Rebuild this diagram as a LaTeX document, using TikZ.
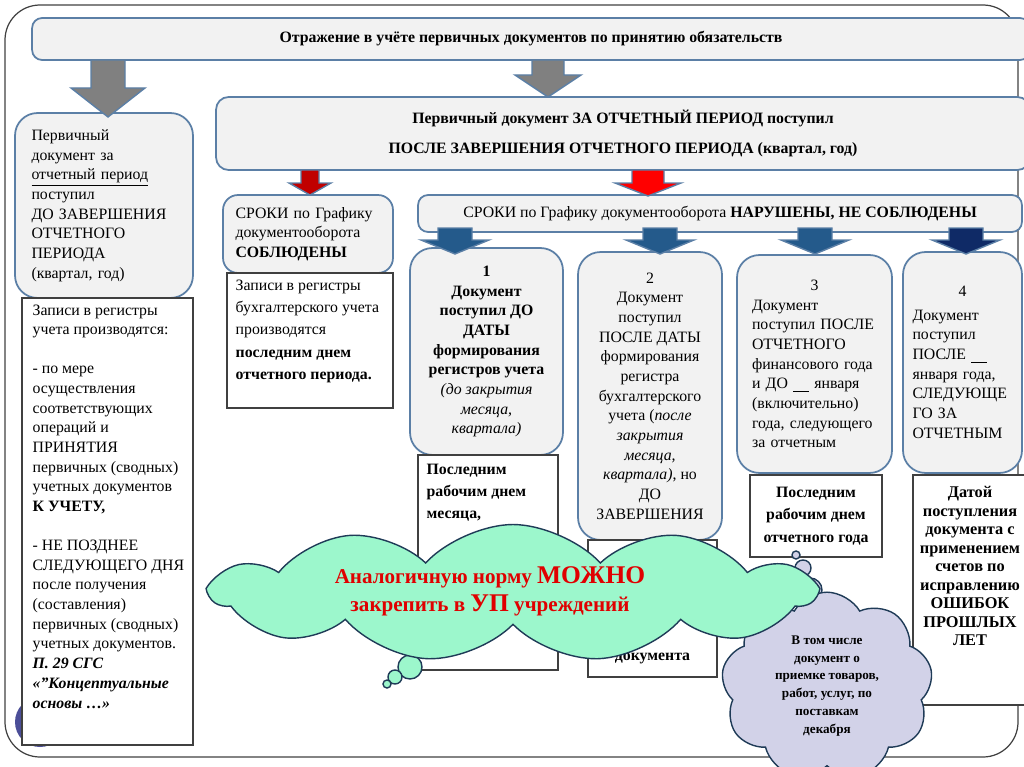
\documentclass[tikz,border=0pt]{standalone}
\usepackage{fontspec}
\setmainfont{Liberation Serif}
\usetikzlibrary{shapes,arrows,positioning}

\definecolor{boxline}{HTML}{5B7FA6}
\definecolor{boxfill}{HTML}{F2F2F2}
\definecolor{noteline}{HTML}{404040}
\definecolor{arrowgray}{HTML}{808080}
\definecolor{darkred}{HTML}{C00000}
\definecolor{steelarrow}{HTML}{245A8B}
\definecolor{navyarrow}{HTML}{0F2A66}
\definecolor{mint}{HTML}{9CF7CC}
\definecolor{lavender}{HTML}{D2D2E8}
\definecolor{cloudline}{HTML}{1F3B57}
\definecolor{alertred}{HTML}{E00000}
\definecolor{framedot}{HTML}{4B4E98}

\newcommand{\boxfont}{\fontsize{9}{11.2}\selectfont}
\newcommand{\cloudfont}{\fontsize{7.5}{10.2}\selectfont\bfseries}
% block arrow pointing down: colour, x, top, neck, tip, half shaft, half head
\newcommand{\blockdown}[7]{%
  \filldraw[draw=boxline, fill=#1, line width=0.8pt] (#2-#6,#3) -- (#2+#6,#3) -- (#2+#6,#4) -- (#2+#7,#4) -- (#2,#5) -- (#2-#7,#4) -- (#2-#6,#4) -- cycle;}

\begin{document}
\begin{tikzpicture}
				[
					x=0.02cm, y=-0.02cm,
					roundbox/.style={rectangle, rounded corners=0.45cm, draw=boxline, fill=boxfill, line width=1pt, font=\boxfont, inner sep=0pt},
					notebox/.style={rectangle, draw=noteline, fill=white, line width=0.8pt, font=\boxfont\bfseries},
					notetext/.style={inner sep=0pt, font=\boxfont, align=left},
					bubble/.style={draw=cloudline, line width=0.8pt},
				]

				\useasboundingbox (0,0) rectangle (1024,767);
				\draw[noteline, line width=0.7pt, rounded corners=0.7cm] (5,5) rectangle (1018,757);
				\fill[framedot] (40,722) circle (0.5cm);

				\node [roundbox, rounded corners=0.2cm, minimum width=19.96cm, minimum height=0.84cm, font=\boxfont\bfseries] (banner) at (531,39) {Отражение в учёте первичных документов по принятию обязательств};
				\node [roundbox, rounded corners=0.25cm, minimum width=16.28cm, minimum height=1.46cm, align=center, font=\boxfont\bfseries] (afterperiod) at (623,133.5) {Первичный документ ЗА ОТЧЕТНЫЙ ПЕРИОД поступил\\[6pt]ПОСЛЕ ЗАВЕРШЕНИЯ ОТЧЕТНОГО ПЕРИОДА (квартал, год)};
				\node [roundbox, minimum width=3.56cm, minimum height=3.7cm, text width=2.9cm, align=left] (beforeperiod) at (104,205.5) {Первичный\\документ за\\\underline{отчетный период}\\поступил\\ДО ЗАВЕРШЕНИЯ\\ОТЧЕТНОГО\\ПЕРИОДА\\(квартал, год)};
				\node [notebox, minimum width=3.42cm, minimum height=8.94cm] (beforenote) at (107.5,521.5) {};
				\node [notetext, below right=0.14cm and 0.22cm of beforenote.north west] (beforenotetext) {Записи в регистры\\учета производятся:\\[11pt]- по мере\\осуществления\\соответствующих\\операций и\\ПРИНЯТИЯ\\первичных (сводных)\\учетных документов\\\textbf{К УЧЕТУ,}\\[11pt]- НЕ ПОЗДНЕЕ\\СЛЕДУЮЩЕГО ДНЯ\\после получения\\(составления)\\первичных (сводных)\\учетных документов.\\\textbf{\textit{П. 29 СГС}}\\\textbf{\textit{«"Концептуальные}}\\\textbf{\textit{основы …»}}};

				\node [roundbox, rounded corners=0.3cm, minimum width=3.4cm, minimum height=1.56cm, text width=2.9cm, align=left] (kept) at (308,234) {СРОКИ по Графику\\документооборота\\\textbf{СОБЛЮДЕНЫ}};
				\node [notebox, minimum width=3.32cm, minimum height=2.7cm] (keptnote) at (310,340.5) {};
				\node [notetext, below right=0.14cm and 0.18cm of keptnote.north west] (keptnotetext) {Записи в регистры\\[1.5pt]бухгалтерского учета\\[1.5pt]производятся\\[1.5pt]\textbf{последним днем}\\[1.5pt]\textbf{отчетного периода.}};
				\node [roundbox, rounded corners=0.2cm, minimum width=12.08cm, minimum height=0.74cm] (broken) at (720,213.5) {СРОКИ по Графику документооборота \textbf{НАРУШЕНЫ, НЕ СОБЛЮДЕНЫ}};

				\node [roundbox, minimum width=3.06cm, minimum height=4.14cm, align=center, font=\boxfont\bfseries] (case1) at (486.5,351.5) {1\\Документ\\поступил ДО\\ДАТЫ\\формирования\\регистров учета\\\textit{\mdseries (до закрытия}\\\textit{\mdseries месяца,}\\\textit{\mdseries квартала)}};
				\node [roundbox, minimum width=2.88cm, minimum height=5.76cm, align=center] (case2) at (650,396) {2\\Документ\\поступил\\ПОСЛЕ ДАТЫ\\формирования\\регистра\\бухгалтерского\\учета (\textit{после}\\\textit{закрытия}\\\textit{месяца,}\\\textit{квартала)}, но\\ДО\\ЗАВЕРШЕНИЯ};
				\node [roundbox, minimum width=3.1cm, minimum height=4.36cm, text width=2.5cm, align=left] (case3) at (814.5,364) {\makebox[2.5cm]{3}\\Документ\\поступил ПОСЛЕ\\ОТЧЕТНОГО\\финансового года\\и ДО \underline{\hspace{1em}} января\\(включительно)\\года, следующего\\за отчетным};
				\node [roundbox, minimum width=2.38cm, minimum height=4.42cm, text width=2.0cm, align=left] (case4) at (962.5,362.5) {\makebox[2.0cm]{4}\\[2pt]Документ\\поступил\\ПОСЛЕ \underline{\hspace{1em}}\\января года,\\СЛЕДУЮЩЕ\\ГО ЗА\\ОТЧЕТНЫМ};

				\node [notebox, minimum width=2.8cm, minimum height=4.3cm] (note1) at (488,562.5) {};
				\node [notetext, font=\boxfont\bfseries, below right=0.18cm and 0.18cm of note1.north west] (note1text) {Последним\\[1.5pt]рабочим днем\\[1.5pt]месяца,};
				\node [notebox, minimum width=2.58cm, minimum height=2.74cm] (note2) at (652.5,608.5) {};
				\node [notetext, font=\boxfont\bfseries, above=0.26cm of note2.south] (note2text) {документа};
				\node [notebox, minimum width=2.64cm, minimum height=1.64cm, align=center] (note3) at (816,516) {Последним\\[1.5pt]рабочим днем\\[1.5pt]отчетного года};
				\node [notebox, minimum width=2.28cm, minimum height=4.6cm] (note4) at (970,590) {};
				\node [notetext, font=\fontsize{9.3}{10.5}\selectfont\bfseries, align=center, below=0.24cm of note4.north] (note4text) {Датой\\поступления\\документа с\\применением\\счетов по\\исправлению\\ОШИБОК\\ПРОШЛЫХ\\ЛЕТ};

				% block arrows
				\blockdown{arrowgray}{108}{60}{88}{117}{17}{37}
				\blockdown{arrowgray}{548}{60}{75}{97}{16}{33}
				\blockdown{darkred}{310}{170}{183}{195}{9}{21}
				\blockdown{red}{648}{170}{183}{196}{16}{33}
				\blockdown{steelarrow}{455}{228}{240}{254}{17}{34}
				\blockdown{steelarrow}{660}{228}{240}{254}{17}{34}
				\blockdown{steelarrow}{815}{228}{240}{254}{17}{34}
				\blockdown{navyarrow}{966}{228}{240}{254}{17}{34}

				% clouds
				\filldraw[bubble, fill=lavender] (810,590) circle (0.24cm);
				\filldraw[bubble, fill=lavender] (803,568) circle (0.16cm);
				\filldraw[bubble, fill=lavender] (796,555) circle (0.08cm);
				\node [cloud, cloud puffs=9, cloud puff arc=120, aspect=1.2, draw=cloudline, fill=lavender, line width=0.8pt, minimum width=3.8cm, minimum height=3.16cm, align=center, font=\cloudfont] (inclusive) at (827,686) {В том числе\\документ о\\приемке товаров,\\работ, услуг, по\\поставкам\\декабря};
				\filldraw[bubble, fill=mint] (410,667) circle (0.24cm);
				\filldraw[bubble, fill=mint] (395,677) circle (0.14cm);
				\filldraw[bubble, fill=mint] (387,684) circle (0.08cm);
				\node [cloud, cloud puffs=11, cloud puff arc=95, aspect=4.4, draw=cloudline, fill=mint, line width=0.8pt, minimum width=12.06cm, minimum height=2.74cm] (normcloud) at (513,593) {};
				\node [align=center, text=alertred, font=\fontsize{12}{16}\selectfont\bfseries] (normtext) at (490,591) {Аналогичную норму {\fontsize{14.5}{16}\selectfont МОЖНО}\\закрепить в {\fontsize{14.5}{16}\selectfont УП} учреждений};

			\end{tikzpicture}
\end{document}
